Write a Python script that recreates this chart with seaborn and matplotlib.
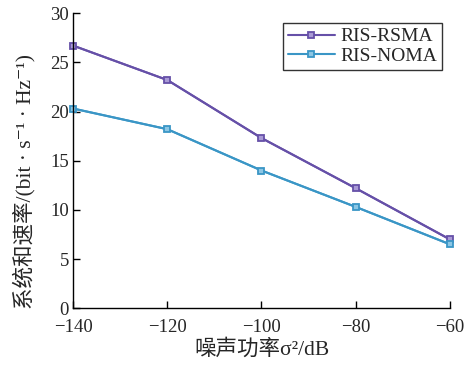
import matplotlib
matplotlib.use("Agg")
import matplotlib.pyplot as plt
import seaborn as sns
import pandas as pd

noise_db = [-140, -120, -100, -80, -60]
rsma = [26.7, 23.2, 17.3, 12.2, 7.0]
noma = [20.3, 18.2, 14.0, 10.3, 6.5]
series_names = ["RIS-RSMA", "RIS-NOMA"]
xticks = [-140, -120, -100, -80, -60]
yticks = [0, 5, 10, 15, 20, 25, 30]

sns.set_style("ticks")
plt.rcParams['font.family'] = ['Liberation Serif', 'Noto Sans CJK SC', 'DejaVu Serif']
plt.rcParams['xtick.direction'] = 'in'
plt.rcParams['ytick.direction'] = 'in'

df = pd.DataFrame({
    "x": noise_db * 2,
    "y": rsma + noma,
    "s": [series_names[0]] * 5 + [series_names[1]] * 5,
})

colors = {"RIS-RSMA": "#6650a8", "RIS-NOMA": "#3a96c6"}
faces = {"RIS-RSMA": "#a99ad6", "RIS-NOMA": "#8cc6e4"}

fig = plt.figure(figsize=(4.72, 3.66), dpi=100)
ax = fig.add_axes([0.155, 0.158, 0.798, 0.806])

sns.lineplot(data=df, x="x", y="y", hue="s", palette=colors, ax=ax,
             linewidth=1.5, legend=False)
for name in series_names:
    sub = df[df.s == name]
    ax.plot(sub.x, sub.y, color=colors[name], marker='s', markersize=5,
            markerfacecolor=faces[name], markeredgecolor=colors[name],
            markeredgewidth=1.3, linewidth=1.5, label=name, clip_on=False)

ax.set_xlim(-140, -60)
ax.set_ylim(0, 30)
ax.set_xticks(xticks)
ax.set_yticks(yticks)
ax.tick_params(labelsize=13.5, length=5, width=1.0, color='black')
ax.tick_params(axis='x', pad=8)
ax.tick_params(axis='y', pad=3)
for sp in ['top', 'right']:
    ax.spines[sp].set_visible(False)
for sp in ['left', 'bottom']:
    ax.spines[sp].set_color('black')
    ax.spines[sp].set_linewidth(1.0)

ax.set_xlabel('噪声功率σ²/dB', fontsize=15.5, labelpad=2)
ax.set_ylabel('系统和速率/(bit · s⁻¹ · Hz⁻¹)', fontsize=15.5)
ax.yaxis.set_label_coords(-0.10, 0.43)

leg = ax.legend(loc='upper right', bbox_to_anchor=(0.99, 0.98), fontsize=14,
                frameon=True, fancybox=False, edgecolor='black',
                handlelength=2.4, borderpad=0.25, labelspacing=0.1,
                handletextpad=0.3, borderaxespad=0.2)
leg.get_frame().set_linewidth(1.0)

fig.savefig("out.png", dpi=100)
